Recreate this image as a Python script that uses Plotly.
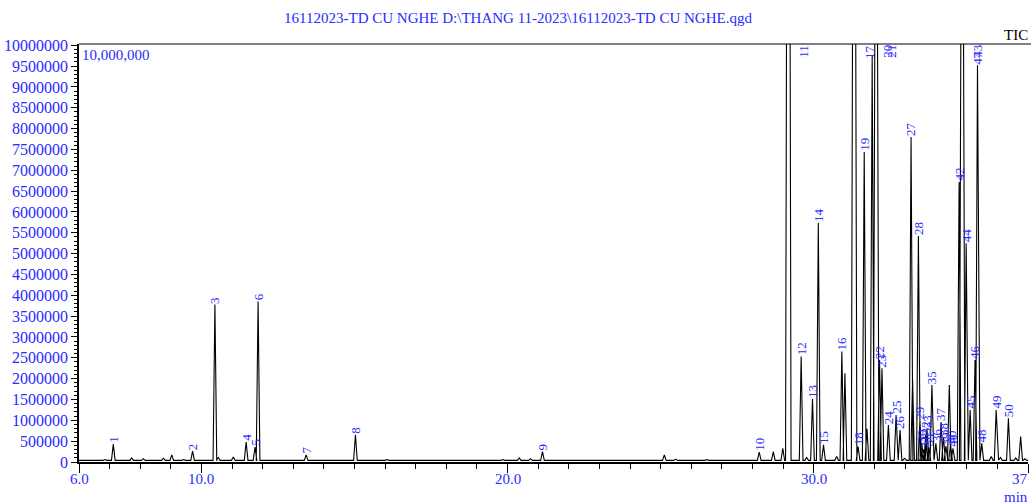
import plotly.graph_objects as go

# ---------------- data ----------------
peak_no = list(range(1, 51))
peak_rt = [7.12, 9.71, 10.44, 11.46, 11.75, 11.85, 13.42, 15.03, 21.14, 28.22,
           29.17, 29.59, 29.96, 30.15, 30.32, 30.92, 31.32, 31.45, 31.65, 31.91,
           32.04, 32.15, 32.23, 32.44, 32.69, 32.82, 33.18, 33.42, 33.47, 33.53,
           33.59, 33.66, 33.70, 33.76, 33.86, 33.99, 34.16, 34.24, 34.32, 34.47,
           34.55, 34.75, 34.85, 34.98, 35.11, 35.27, 35.35, 35.49, 35.96, 36.36]
peak_height = [430000, 260000, 3780000, 480000, 360000, 3850000, 170000, 650000, 250000, 240000,
               30000000, 2530000, 1510000, 5740000, 410000, 2650000, 25000000, 370000, 7440000, 9760000,
               20000000, 2450000, 2250000, 890000, 1130000, 770000, 7800000, 5420000, 1000000, 450000,
               300000, 650000, 800000, 350000, 1850000, 450000, 960000, 600000, 380000, 420000,
               330000, 6720000, 20000000, 5250000, 1250000, 2450000, 9520000, 450000, 1250000, 1050000]

minor_rt = [6.85, 7.72, 8.10, 8.76, 9.03, 9.42, 10.55, 11.04, 16.06, 19.85,
            20.38, 20.75, 25.12, 25.49, 26.51, 28.68, 28.99, 29.77, 30.75, 31.02,
            31.74, 32.97, 33.23, 34.43, 35.80, 36.10, 36.60, 36.76, 36.90]
minor_height = [60000, 100000, 80000, 90000, 170000, 60000, 110000, 120000, 60000, 60000,
                100000, 80000, 170000, 70000, 60000, 250000, 330000, 110000, 130000, 2130000,
                800000, 90000, 1970000, 1850000, 130000, 110000, 100000, 610000, 80000]

baseline = 40000
x_start, x_end = 6.0, 37.0
y_tick_values = list(range(0, 10000001, 500000))
x_tick_values = [6, 10, 20, 30, 37]
x_tick_labels = ["6.0", "10.0", "20.0", "30.0", "37"]

title_text = "16112023-TD CU NGHE D:\\THANG 11-2023\\16112023-TD CU NGHE.qgd"

# ---------------- build chromatogram trace ----------------
Y_MAX = 10030000
BLUE = "#2a2aff"
SERIF = "Liberation Serif, Times New Roman, serif"

all_peaks = sorted(zip(peak_rt + minor_rt, peak_height + minor_height))
xs = [x_start]
ys = [baseline]
for rt, h in all_peaks:
    w = 0.09 if h > Y_MAX else 0.06
    xs += [rt - w, rt, rt + w]
    ys += [baseline, h, baseline]
xs.append(x_end)
ys.append(baseline)

fig = go.Figure()
fig.add_trace(go.Scatter(x=xs, y=ys, mode="lines",
                         line=dict(color="black", width=1.1),
                         hoverinfo="skip", showlegend=False))

# ---------------- peak labels ----------------
annotations = []
for n, rt, h in zip(peak_no, peak_rt, peak_height):
    if h > Y_MAX * 0.965:
        annotations.append(dict(x=rt, y=1, xref="x", yref="paper", text=str(n),
                                textangle=-90, showarrow=False, xanchor="center",
                                yanchor="top", xshift=15, yshift=1,
                                font=dict(family=SERIF, size=13, color=BLUE)))
    else:
        annotations.append(dict(x=rt, y=h, xref="x", yref="y", text=str(n),
                                textangle=-90, showarrow=False, xanchor="center",
                                yanchor="bottom", yshift=-1,
                                font=dict(family=SERIF, size=13, color=BLUE)))

# x tick labels (placed close to the axis, as in the reference)
for tv, tl in zip(x_tick_values, x_tick_labels):
    at_edge = tv == x_end
    annotations.append(dict(x=tv, y=0, xref="x", yref="paper", text=tl,
                            showarrow=False,
                            xanchor="right" if at_edge else "center",
                            xshift=2 if at_edge else 0,
                            yanchor="middle", yshift=-17,
                            font=dict(family=SERIF, size=15, color=BLUE)))

annotations += [
    dict(x=0, y=1, xref="paper", yref="paper", text="10,000,000", showarrow=False,
         xanchor="left", yanchor="top", xshift=1, yshift=-1,
         font=dict(family=SERIF, size=15, color=BLUE)),
    dict(x=1, y=1, xref="paper", yref="paper", text="TIC", showarrow=False,
         xanchor="right", yanchor="bottom", xshift=2, yshift=-1,
         font=dict(family=SERIF, size=15, color="black")),
    dict(x=1, y=0, xref="paper", yref="paper", text="min", showarrow=False,
         xanchor="right", yanchor="middle", xshift=2, yshift=-35,
         font=dict(family=SERIF, size=15, color=BLUE)),
]

fig.update_layout(
    width=1031, height=504,
    margin=dict(l=79, r=3, t=44, b=42),
    paper_bgcolor="white", plot_bgcolor="white",
    title=dict(text=title_text, x=518 / 1031, xanchor="center",
               y=1 - 18 / 504, yanchor="middle",
               font=dict(family=SERIF, size=15, color=BLUE)),
    annotations=annotations,
    shapes=[dict(type="line", xref="paper", yref="paper", x0=0, x1=1.01, y0=1, y1=1,
                 line=dict(color="black", width=1))],
)

fig.update_xaxes(range=[x_start, x_end], showgrid=False, zeroline=False,
                 showline=True, linecolor="black", linewidth=1.5,
                 tickmode="array", tickvals=x_tick_values, showticklabels=False,
                 ticks="outside", ticklen=9, tickwidth=1, tickcolor="black",
                 minor=dict(dtick=1, tick0=6, ticks="outside", ticklen=5,
                            tickcolor="black", showgrid=False))

fig.update_yaxes(range=[0, Y_MAX], showgrid=False, zeroline=False,
                 showline=True, linecolor="black", linewidth=1.5,
                 tickmode="array", tickvals=y_tick_values,
                 ticktext=[str(v) for v in y_tick_values],
                 ticks="outside", ticklen=6, tickwidth=1, tickcolor="black",
                 minor=dict(dtick=100000, tick0=0, ticks="outside", ticklen=3,
                            tickcolor="black", showgrid=False),
                 tickfont=dict(family=SERIF, size=16, color=BLUE))

fig.write_html("out.html")
